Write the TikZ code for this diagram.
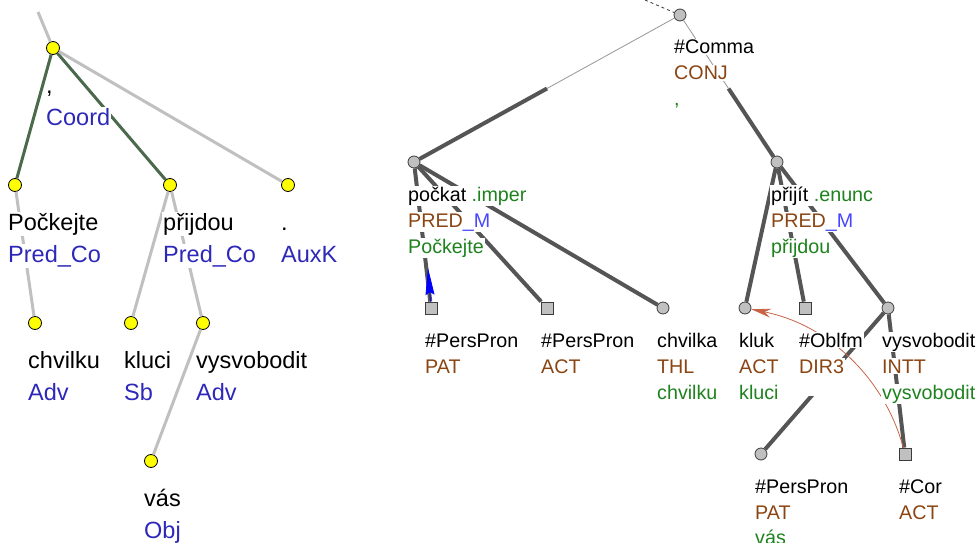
\documentclass[tikz,border=0pt]{standalone}
\usepackage{fontspec}
\setmainfont{Liberation Sans}
\usetikzlibrary{arrows.meta}

\definecolor{ayellow}{RGB}{255,255,0}
\definecolor{agray}{RGB}{192,192,192}
\definecolor{agreen}{RGB}{75,105,75}
\definecolor{afun}{RGB}{45,40,185}
\definecolor{tfill}{RGB}{192,192,192}
\definecolor{tline}{RGB}{60,60,60}
\definecolor{tedge}{RGB}{85,85,85}
\definecolor{tthin}{RGB}{150,150,150}
\definecolor{func}{RGB}{139,69,19}
\definecolor{memb}{RGB}{70,70,255}
\definecolor{form}{RGB}{30,130,30}
\definecolor{cref}{RGB}{200,100,70}

\tikzset{
    lbl/.style={anchor=base west, fill=white, inner xsep=1pt, inner ysep=1pt},
    alab/.style={lbl, font=\fontsize{23.5}{28}\selectfont},
    tlab/.style={lbl, font=\fontsize{19.7}{24}\selectfont}
}

\begin{document}
\begin{tikzpicture}[x=1pt,y=-1pt]
\useasboundingbox (0,0) rectangle (978,543);

% analytical tree
\begin{scope}[every node/.style={circle,draw=black,fill=ayellow,minimum size=13pt,inner sep=0pt,line width=0.8pt}]
    \node (coord) at (53,48) {};
    \node (pockejte) at (15,185) {};
    \node (prijdou) at (170,185) {};
    \node (auxk) at (288,185) {};
    \node (chvilku) at (35,323) {};
    \node (kluci) at (131,323) {};
    \node (vysv) at (203,323) {};
    \node (vas) at (151,461) {};
\end{scope}
\coordinate (atop) at (38,12);

% tectogrammatical tree
\begin{scope}[every node/.style={draw=tline,fill=tfill,minimum size=12pt,inner sep=0pt,line width=0.8pt}]
    \node (comma) at (680,15) [shape=circle] {};
    \node (pockat) at (414,162) [shape=circle] {};
    \node (prijit) at (777,162) [shape=circle] {};
    \node (patA) at (431,308) [shape=rectangle] {};
    \node (actA) at (547,308) [shape=rectangle] {};
    \node (chvilka) at (663,308) [shape=circle] {};
    \node (kluk) at (745,308) [shape=circle] {};
    \node (oblfm) at (805,308) [shape=rectangle] {};
    \node (vysvR) at (888,308) [shape=circle] {};
    \node (perspron) at (761,454) [shape=circle] {};
    \node (cor) at (905,454) [shape=rectangle] {};
\end{scope}
\coordinate (ttop) at (645,0);
\coordinate (tref) at (428,268);
\path (comma) -- (pockat) coordinate[midway] (mpockat);
\path (comma) -- (prijit) coordinate[midway] (mprijit);

\begin{scope}[every edge/.style={draw=agray,line width=3pt}]
    \path (atop) edge (coord);
    \path (coord) edge [draw=agreen] (pockejte);
    \path (coord) edge [draw=agreen] (prijdou);
    \path (coord) edge (auxk);
    \path (pockejte) edge (chvilku);
    \path (prijdou) edge (kluci);
    \path (prijdou) edge (vysv);
    \path (vysv) edge (vas);
\end{scope}

\begin{scope}[every edge/.style={draw=tedge,line width=4pt}]
    \path (mpockat) edge (pockat);
    \path (mprijit) edge (prijit);
    \path (pockat) edge (patA);
    \path (pockat) edge (actA);
    \path (pockat) edge (chvilka);
    \path (prijit) edge (kluk);
    \path (prijit) edge (oblfm);
    \path (prijit) edge (vysvR);
    \path (vysvR) edge (perspron);
    \path (vysvR) edge (cor);
\end{scope}
\draw [tthin, line width=0.8pt] (comma) -- (mpockat);
\draw [tthin, line width=0.8pt] (comma) -- (mprijit);
\draw [tline, line width=0.8pt, dash pattern=on 3pt off 3pt] (ttop) -- (comma);

% coreference
\draw [blue, line width=0.8pt, -{Stealth[length=27pt,width=9pt,inset=3pt]}] (patA) -- (tref);
\draw [cref, line width=0.8pt, -{Stealth[length=20pt,width=9pt]}] (cor) .. controls (885,380) and (830,325) .. (kluk);

% labels of the analytical tree
\node (coord-1) at (45,93) [alab] {,};
\node (coord-2) at (45,125) [alab, text=afun] {Coord};
\node (pockejte-1) at (7,230) [alab] {Počkejte};
\node (pockejte-2) at (7,262) [alab, text=afun] {Pred\_Co};
\node (prijdou-1) at (162,230) [alab] {přijdou};
\node (prijdou-2) at (162,262) [alab, text=afun] {Pred\_Co};
\node (auxk-1) at (280,230) [alab] {.};
\node (auxk-2) at (280,262) [alab, text=afun] {AuxK};
\node (chvilku-1) at (27,368) [alab] {chvilku};
\node (chvilku-2) at (27,400) [alab, text=afun] {Adv};
\node (kluci-1) at (123,368) [alab] {kluci};
\node (kluci-2) at (123,400) [alab, text=afun] {Sb};
\node (vysv-1) at (195,368) [alab] {vysvobodit};
\node (vysv-2) at (195,400) [alab, text=afun] {Adv};
\node (vas-1) at (143,506) [alab] {vás};
\node (vas-2) at (143,538) [alab, text=afun] {Obj};

% labels of the tectogrammatical tree
\node (comma-1) at (673,54) [tlab] {\#Comma};
\node (comma-2) at (673,80) [tlab, text=func] {CONJ};
\node (comma-3) at (673,106) [tlab, text=form] {,};
\node (pockat-1) at (407,201) [tlab] {počkat {\color{form}.imper}};
\node (pockat-2) at (407,227) [tlab, text=func] {PRED{\color{memb}\_M}};
\node (pockat-3) at (407,253) [tlab, text=form] {Počkejte};
\node (prijit-1) at (770,201) [tlab] {přijít {\color{form}.enunc}};
\node (prijit-2) at (770,227) [tlab, text=func] {PRED{\color{memb}\_M}};
\node (prijit-3) at (770,253) [tlab, text=form] {přijdou};
\node (patA-1) at (424,347) [tlab] {\#PersPron};
\node (patA-2) at (424,373) [tlab, text=func] {PAT};
\node (actA-1) at (540,347) [tlab] {\#PersPron};
\node (actA-2) at (540,373) [tlab, text=func] {ACT};
\node (chvilka-1) at (656,347) [tlab] {chvilka};
\node (chvilka-2) at (656,373) [tlab, text=func] {THL};
\node (chvilka-3) at (656,399) [tlab, text=form] {chvilku};
\node (kluk-1) at (738,347) [tlab] {kluk};
\node (kluk-2) at (738,373) [tlab, text=func] {ACT};
\node (kluk-3) at (738,399) [tlab, text=form] {kluci};
\node (oblfm-1) at (798,347) [tlab] {\#Oblfm};
\node (oblfm-2) at (798,373) [tlab, text=func, text depth=22pt] {DIR3};
\node (vysvR-1) at (881,347) [tlab] {vysvobodit};
\node (vysvR-2) at (881,373) [tlab, text=func] {INTT};
\node (vysvR-3) at (881,399) [tlab, text=form] {vysvobodit};
\node (perspron-1) at (754,493) [tlab] {\#PersPron};
\node (perspron-2) at (754,519) [tlab, text=func] {PAT};
\node (perspron-3) at (754,544) [tlab, text=form] {vás};
\node (cor-1) at (898,493) [tlab] {\#Cor};
\node (cor-2) at (898,519) [tlab, text=func] {ACT};
\end{tikzpicture}
\end{document}
